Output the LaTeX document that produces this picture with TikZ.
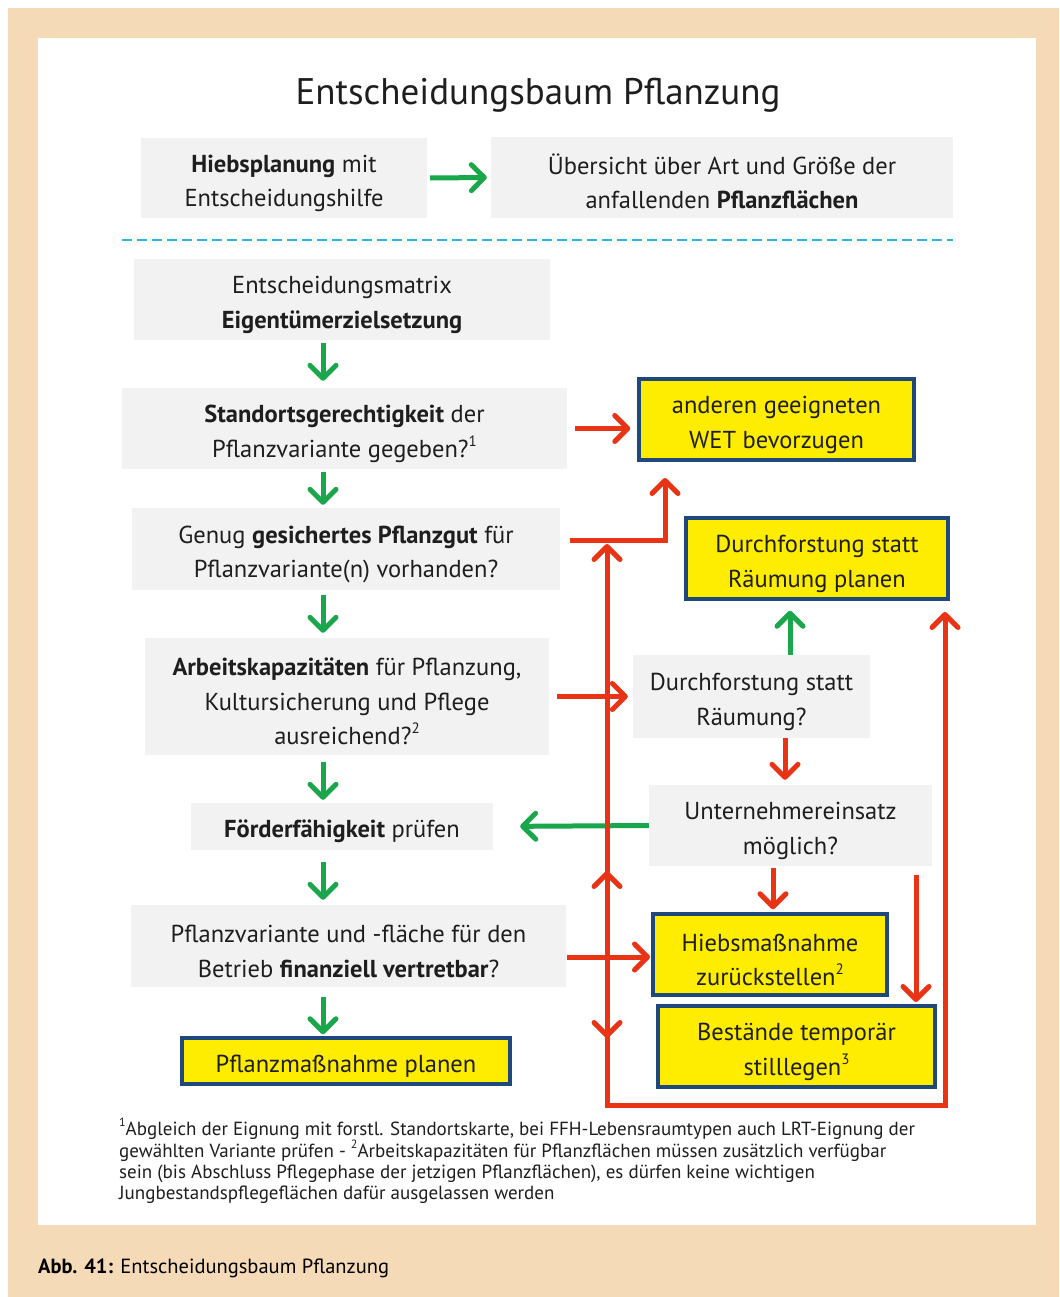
\documentclass[tikz,border=0pt]{standalone}
\usepackage{fontspec}
\setmainfont{PT Sans}
\usetikzlibrary{arrows.meta}
\definecolor{beige}{RGB}{244,218,183}
\definecolor{boxgray}{RGB}{242,242,242}
\definecolor{ylw}{RGB}{255,237,0}
\definecolor{navy}{RGB}{31,73,125}
\definecolor{grn}{RGB}{26,166,74}
\definecolor{rd}{RGB}{232,52,20}
\definecolor{dashblue}{RGB}{45,180,230}
\definecolor{txt}{RGB}{30,30,30}
\newcommand{\supr}[1]{\raisebox{0.45em}{\fontsize{15}{15}\selectfont #1}}
\newcommand{\fsup}[1]{\raisebox{0.45em}{\fontsize{12}{12}\selectfont #1}}
\newcommand{\fst}{\rule{0pt}{28pt}}
\begin{document}
\begin{tikzpicture}[x=1pt,y=-1pt,
  bodyfont/.style={font=\fontsize{24.5}{34.5}\selectfont},
  gbox/.style={fill=boxgray, inner sep=0pt, align=center, text=txt, bodyfont},
  ybox/.style={fill=ylw, draw=navy, line width=3.5pt, inner sep=0pt, align=center, text=txt, bodyfont},
  garrow/.style={draw=grn, line width=5pt, -{Straight Barb[length=13pt,width=26pt,round]}},
  rarrow/.style={draw=rd, line width=5pt, -{Straight Barb[length=13pt,width=26pt,round]}},
]
% background
\useasboundingbox (0,0) rectangle (1059,1297);
\fill[white] (0,0) rectangle (1059,1297);
\fill[beige] (8,8) rectangle (1059,1297);
\fill[white] (38,38) rectangle (1036,1225);

% title
\node[text=txt, font=\fontsize{37}{40}\selectfont] (title) at (538,95) {Entscheidungsbaum Pflanzung};

% top row
\node[gbox, minimum width=286pt, minimum height=80pt] (hieb) at (284,178) {\fst\textbf{Hiebsplanung} mit\\Entscheidungshilfe};
\node[gbox, minimum width=462pt, minimum height=81pt] (ueber) at (722,177.5) {\fst Übersicht über Art und Größe der\\anfallenden \textbf{Pflanzflächen}};
\draw[garrow, shorten <=3pt, shorten >=4pt] (hieb.east) -- (ueber.west);

% dashed separator
\coordinate (dl) at (122,240);
\coordinate (dr) at (953,240);
\draw[dashblue, line width=2.5pt, dash pattern=on 10pt off 5pt] (dl) -- (dr);

% left column
\node[gbox, minimum width=416pt, minimum height=81pt] (matrix) at (342,299.5) {\fst Entscheidungsmatrix\\\textbf{Eigentümerzielsetzung}};
\node[gbox, minimum width=445pt, minimum height=81pt] (stand) at (344.5,428.5) {\fst\textbf{Standortsgerechtigkeit} der\\Pflanzvariante gegeben?\supr{1}};
\node[gbox, minimum width=428pt, minimum height=82pt] (genug) at (346,549) {\fst Genug \textbf{gesichertes Pflanzgut} für\\Pflanzvariante(n) vorhanden?};
\node[gbox, minimum width=404pt, minimum height=117pt] (arbeit) at (347,696.5) {\fst\textbf{Arbeitskapazitäten} für Pflanzung,\\Kultursicherung und Pflege\\ausreichend?\supr{2}};
\node[gbox, minimum width=302pt, minimum height=47pt] (foerder) at (342,826.5) {\fst\textbf{Förderfähigkeit} prüfen};
\node[gbox, minimum width=435pt, minimum height=82pt] (pvar) at (348.5,946) {\fst Pflanzvariante und -fläche für den\\Betrieb \textbf{finanziell vertretbar}?};
\node[ybox, minimum width=328pt, minimum height=46pt] (pmass) at (346,1061) {\fst Pflanzmaßnahme planen};

% right column
\node[ybox, minimum width=275pt, minimum height=81pt] (wet) at (776.5,419.5) {\fst anderen geeigneten\\WET bevorzugen};
\node[ybox, minimum width=262pt, minimum height=81pt] (dplan) at (817,558.5) {\fst Durchforstung statt\\Räumung planen};
\node[gbox, minimum width=237pt, minimum height=83pt] (dfrage) at (751.5,696.5) {\fst Durchforstung statt\\Räumung?};
\node[gbox, minimum width=283pt, minimum height=81pt] (untern) at (790.5,825.5) {\fst Unternehmereinsatz\\möglich?};
\node[ybox, minimum width=234pt, minimum height=81pt] (hiebz) at (770,954.5) {\fst Hiebsmaßnahme\\zurückstellen\supr{2}};
\node[ybox, minimum width=277pt, minimum height=81pt] (bestand) at (796.5,1046.5) {\fst Bestände temporär\\stilllegen\supr{3}};

% green down arrows (left column)
\coordinate (ax) at (323,0);
\draw[garrow, shorten <=3pt, shorten >=7pt] (matrix.south -| ax) -- (stand.north -| ax);
\draw[garrow, shorten <=3pt, shorten >=3pt] (stand.south -| ax) -- (genug.north -| ax);
\draw[garrow, shorten <=5pt, shorten >=5pt] (genug.south -| ax) -- (arbeit.north -| ax);
\draw[garrow, shorten <=7pt, shorten >=3pt] (arbeit.south -| ax) -- (foerder.north -| ax);
\draw[garrow, shorten <=12pt, shorten >=5pt] (foerder.south -| ax) -- (pvar.north -| ax);
\draw[garrow, shorten <=10pt, shorten >=2pt] (pvar.south -| ax) -- (pmass.north -| ax);

% green arrows right side
\coordinate (gx) at (790,0);
\draw[garrow, shorten >=10pt] (dfrage.north -| gx) -- (dplan.south -| gx);
\draw[garrow, shorten >=27pt] (untern.west) -- (foerder.east);

% red arrows
\draw[rarrow, shorten <=8pt, shorten >=7pt] (stand.east) -- (wet.west |- stand.east);
\coordinate (g1) at (570,540);
\coordinate (g2) at (665,540);
\coordinate (g3) at (665,478);
\draw[rarrow, line join=miter] (g1) -- (g2) -- (g3);
\draw[rarrow, shorten <=8pt, shorten >=5pt] (arbeit.east) -- (dfrage.west);
\coordinate (rx1) at (785,0);
\draw[rarrow, shorten >=5pt] (dfrage.south -| rx1) -- (untern.north -| rx1);
\coordinate (rx2) at (773,0);
\draw[rarrow, shorten <=2pt, shorten >=3pt] (untern.south -| rx2) -- (hiebz.north -| rx2);
\coordinate (p1) at (567,957);
\coordinate (p2) at (650,957);
\draw[rarrow] (p1) -- (p2);
\coordinate (u1) at (916,875);
\coordinate (u2) at (916,1002);
\draw[rarrow] (u1) -- (u2);

% red loop
\coordinate (lt) at (607,544);
\coordinate (lb) at (607,1105);
\coordinate (rb) at (945,1105);
\coordinate (rt) at (945,612);
\draw[draw=rd, line width=5pt, line join=miter, {Straight Barb[length=13pt,width=26pt,round]}-{Straight Barb[length=13pt,width=26pt,round]}] (lt) -- (lb) -- (rb) -- (rt);
\coordinate (m1) at (607,900);
\coordinate (m2) at (607,871);
\draw[rarrow] (m1) -- (m2);
\coordinate (m3) at (607,1010);
\coordinate (m4) at (607,1038);
\draw[rarrow] (m3) -- (m4);

% footnote
\node[anchor=north west, align=left, inner sep=0pt, text=txt, font=\fontsize{19}{21}\selectfont] (foot) at (119,1118)
{\fsup{1}Abgleich der Eignung mit forstl. Standortskarte, bei FFH-Lebensraumtypen auch LRT-Eignung der\\
gewählten Variante prüfen - \fsup{2}Arbeitskapazitäten für Pflanzflächen müssen zusätzlich verfügbar\\
sein (bis Abschluss Pflegephase der jetzigen Pflanzflächen), es dürfen keine wichtigen\\
Jungbestandspflegeflächen dafür ausgelassen werden};

% caption
\node[anchor=west, inner sep=0pt, text=black, font=\fontsize{20.5}{24}\selectfont] (cap) at (38,1268) {\textbf{Abb. 41:} Entscheidungsbaum Pflanzung};
\end{tikzpicture}
\end{document}
